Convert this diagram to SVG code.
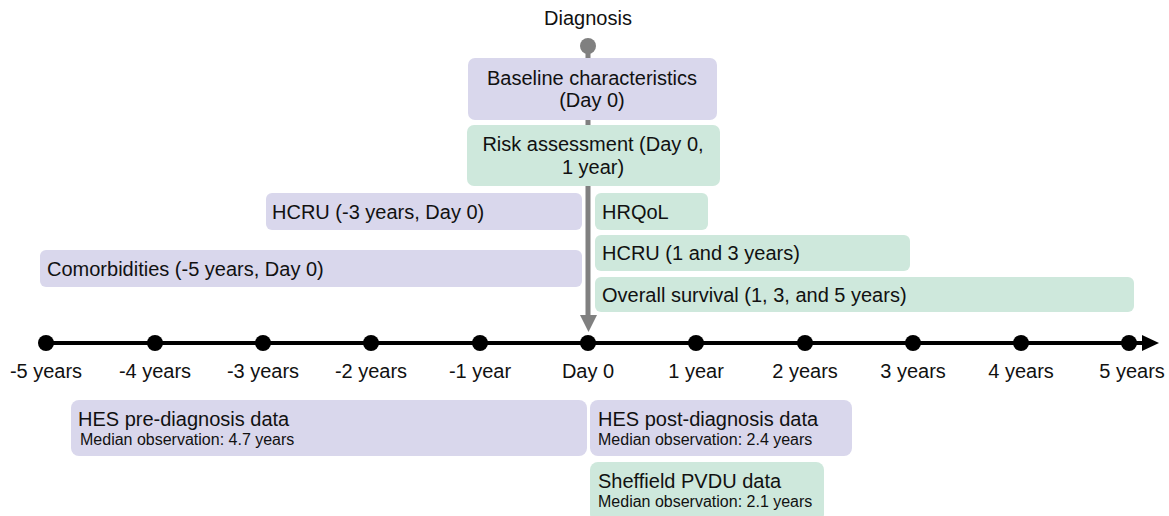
<svg xmlns="http://www.w3.org/2000/svg" width="1169" height="516" viewBox="0 0 1169 516">
<defs>
<style>
text{font-family:"Liberation Sans",Arial,sans-serif;fill:#111;}
.t{font-size:20px;}
.s{font-size:16px;}
.m{text-anchor:middle;}
.lav{fill:#d9d7ec;}
.grn{fill:#cee8dc;}
</style>
</defs>
<rect width="1169" height="516" fill="#fff"/>
<g id="connectors">
<line x1="46" y1="343" x2="1146" y2="343" stroke="#000" stroke-width="4"/>
<polygon points="1142,335 1159,343 1142,351" fill="#000"/>
<g fill="#000">
<circle cx="46" cy="343" r="8"/><circle cx="155" cy="343" r="8"/><circle cx="263" cy="343" r="8"/>
<circle cx="371" cy="343" r="8"/><circle cx="480" cy="343" r="8"/><circle cx="588" cy="343" r="8"/>
<circle cx="696" cy="343" r="8"/><circle cx="805" cy="343" r="8"/><circle cx="913" cy="343" r="8"/>
<circle cx="1021" cy="343" r="8"/><circle cx="1129" cy="343" r="8"/>
</g>
<line x1="588" y1="46" x2="588" y2="318" stroke="#808080" stroke-width="5"/>
<circle cx="588" cy="46" r="8" fill="#808080"/>
<polygon points="580,315 597,315 588.5,332" fill="#808080"/>
</g>
<g id="labels">
<text class="t m" x="588" y="25">Diagnosis</text>
<text class="t m" x="46" y="378">-5 years</text>
<text class="t m" x="155" y="378">-4 years</text>
<text class="t m" x="263" y="378">-3 years</text>
<text class="t m" x="371" y="378">-2 years</text>
<text class="t m" x="480" y="378">-1 year</text>
<text class="t m" x="588" y="378">Day 0</text>
<text class="t m" x="696" y="378">1 year</text>
<text class="t m" x="805" y="378">2 years</text>
<text class="t m" x="913" y="378">3 years</text>
<text class="t m" x="1021" y="378">4 years</text>
<text class="t m" x="1132" y="378">5 years</text>
</g>
<g id="baseline">
<rect class="lav" x="468" y="58" width="249" height="62" rx="7"/>
<text class="t m" x="592" y="85">Baseline characteristics</text>
<text class="t m" x="592" y="107">(Day 0)</text>
</g>
<g id="risk">
<rect class="grn" x="467" y="125" width="253" height="61" rx="7"/>
<text class="t m" x="593" y="151">Risk assessment (Day 0,</text>
<text class="t m" x="593" y="174">1 year)</text>
</g>
<g id="hcru-pre">
<rect class="lav" x="266" y="193" width="316" height="37" rx="6"/>
<text class="t" x="272" y="219">HCRU (-3 years, Day 0)</text>
</g>
<g id="comorbidities">
<rect class="lav" x="40" y="250" width="542" height="37" rx="6"/>
<text class="t" x="47" y="276">Comorbidities (-5 years, Day 0)</text>
</g>
<g id="hrqol">
<rect class="grn" x="595" y="193" width="113" height="37" rx="6"/>
<text class="t" x="602" y="219">HRQoL</text>
</g>
<g id="hcru-post">
<rect class="grn" x="595" y="235" width="315" height="36" rx="6"/>
<text class="t" x="602" y="260">HCRU (1 and 3 years)</text>
</g>
<g id="survival">
<rect class="grn" x="595" y="277" width="539" height="35" rx="6"/>
<text class="t" x="602" y="302">Overall survival (1, 3, and 5 years)</text>
</g>
<g id="hes-pre">
<rect class="lav" x="71" y="400" width="516" height="56" rx="8"/>
<text class="t" x="78" y="426">HES pre-diagnosis data</text>
<text class="s" x="80" y="445">Median observation: 4.7 years</text>
</g>
<g id="hes-post">
<rect class="lav" x="590" y="400" width="262" height="56" rx="8"/>
<text class="t" x="598" y="426">HES post-diagnosis data</text>
<text class="s" x="598" y="445">Median observation: 2.4 years</text>
</g>
<g id="pvdu">
<rect class="grn" x="590" y="462" width="234" height="60" rx="8"/>
<text class="t" x="598" y="488">Sheffield PVDU data</text>
<text class="s" x="598" y="507">Median observation: 2.1 years</text>
</g>
</svg>
